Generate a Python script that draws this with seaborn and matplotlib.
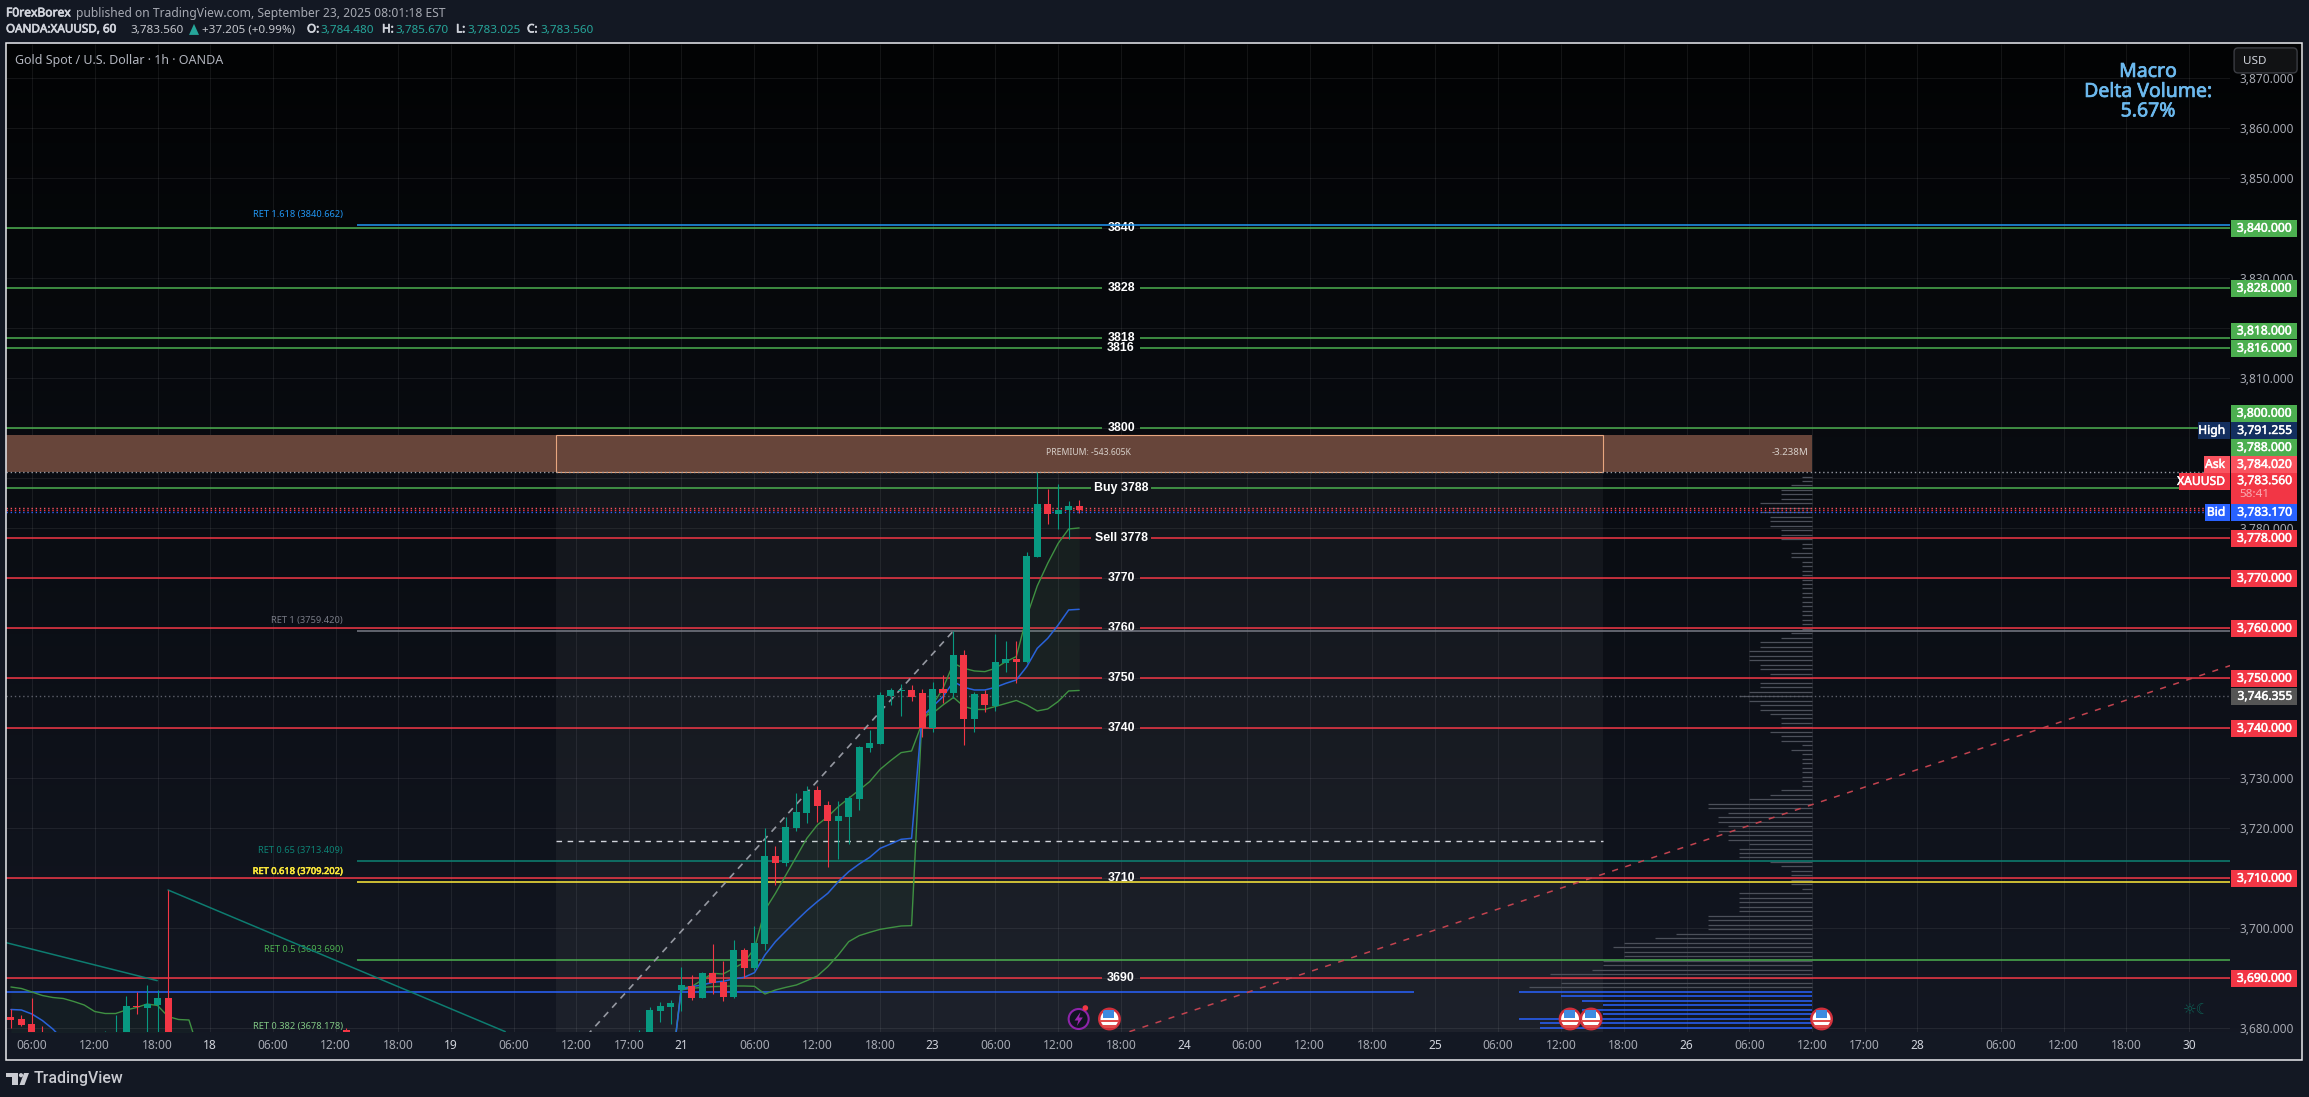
import numpy as np
import pandas as pd
import matplotlib
matplotlib.use("Agg")
import matplotlib.pyplot as plt
import matplotlib.patheffects as pe
import seaborn as sns
from matplotlib.colors import LinearSegmentedColormap
from matplotlib.patches import Circle, Polygon, Rectangle

# ==========================================
# DATA (x = hourly bar index, 0 is Sep 22 06:00)
# ==========================================
candle_t = [-71, -70, -69, -68, -62, -61, -60, -59, -58, -57, -56, -39, -11, -10, -9, -8, -7, -6, -5, -4, -3, -2, -1,
            0, 1, 2, 3, 4, 5, 6, 7, 8, 9, 10, 11, 12, 13, 14, 15, 16, 17, 18, 19, 20, 21, 22, 23, 24, 25, 26, 27, 28,
            29, 30, 31]
candle_open = [3682.2, 3681.8, 3680.8, 3677.5, 3674.0, 3672.0, 3677.0, 3684.4, 3684.0, 3684.6, 3686.0, 3679.5, 3676.0,
               3678.0, 3683.4, 3684.2, 3687.6, 3688.4, 3686.0, 3691.0, 3689.2, 3686.2, 3695.6,
               3692.0, 3696.8, 3714.4, 3713.0, 3720.0, 3723.0, 3727.6, 3724.6, 3721.4, 3722.2, 3725.8, 3736.0, 3736.8,
               3746.4, 3747.4, 3747.6, 3747.0, 3739.93, 3747.8, 3747.0, 3754.6, 3741.8, 3746.8, 3744.4, 3753.0, 3753.8,
               3753.2, 3774.27, 3784.8, 3782.87, 3783.67, 3784.48]
candle_high = [3683.7, 3682.6, 3686.0, 3680.3, 3679.4, 3682.6, 3686.3, 3687.1, 3688.6, 3687.6, 3707.6, 3679.9, 3679.6,
               3684.2, 3685.2, 3685.6, 3692.2, 3690.6, 3691.2, 3696.8, 3693.4, 3697.6, 3696.0,
               3700.4, 3720.0, 3716.4, 3722.2, 3727.0, 3728.4, 3728.4, 3725.4, 3725.4, 3726.4, 3736.4, 3739.6, 3747.2,
               3748.0, 3748.8, 3748.6, 3747.8, 3749.2, 3750.6, 3759.42, 3755.6, 3747.2, 3747.6, 3758.8, 3757.4, 3757.4,
               3775.2, 3791.25, 3787.8, 3788.8, 3785.4, 3785.67]
candle_low = [3679.9, 3680.4, 3677.0, 3675.0, 3673.0, 3671.0, 3676.0, 3682.8, 3679.0, 3678.0, 3676.0, 3676.0, 3675.0,
              3677.0, 3681.2, 3680.8, 3683.4, 3685.6, 3686.0, 3686.8, 3685.4, 3686.0, 3690.0,
              3691.6, 3695.6, 3708.6, 3712.4, 3719.4, 3721.0, 3721.2, 3712.2, 3713.8, 3716.8, 3723.6, 3735.2, 3736.8,
              3744.6, 3742.4, 3745.47, 3738.13, 3739.27, 3745.07, 3745.9, 3736.6, 3739.27, 3743.27, 3743.47, 3751.27,
              3749.07, 3753.0, 3774.27, 3780.87, 3779.8, 3777.7, 3783.03]
candle_close = [3681.6, 3680.6, 3677.0, 3675.0, 3677.0, 3677.0, 3684.4, 3684.2, 3684.8, 3685.9, 3677.0, 3677.0, 3678.0,
                3683.6, 3684.4, 3685.0, 3688.6, 3686.0, 3691.0, 3689.0, 3686.2, 3695.6, 3692.0,
                3697.0, 3714.4, 3713.0, 3720.2, 3723.2, 3727.4, 3724.4, 3721.4, 3722.4, 3726.0, 3736.2, 3736.93, 3746.6,
                3747.6, 3747.6, 3746.27, 3739.93, 3747.8, 3747.0, 3754.6, 3741.8, 3746.8, 3744.6, 3753.2, 3753.8, 3753.2,
                3774.4, 3784.8, 3782.87, 3783.53, 3784.33, 3783.56]

# anchored band from Sep 21
band_t = [-8, -7, -6, -5, -4, -3, -2, -1, 0, 1, 2, 3, 4, 5, 6, 7, 8, 9, 10, 11, 12, 13, 14, 15, 16, 17, 18, 19, 20,
          21, 22, 23, 24, 25, 26, 27, 28, 29, 30, 31]
band_upper = [3670.0, 3688.0, 3688.27, 3689.6, 3690.93, 3690.8, 3691.93, 3693.07, 3695.93, 3703.6, 3706.93, 3710.6,
              3714.27, 3717.93, 3720.6, 3722.27, 3724.27, 3725.93, 3727.6, 3729.27, 3731.73, 3733.47, 3735.07, 3735.4,
              3740.93, 3744.6, 3747.93, 3752.93, 3751.93, 3751.4, 3751.27, 3751.93, 3753.27, 3754.27, 3762.27, 3768.4,
              3772.93, 3776.93, 3779.8, 3780.0]
band_mid = [3670.0, 3687.6, 3688.27, 3688.6, 3689.13, 3689.33, 3689.8, 3690.13, 3691.07, 3694.6, 3697.27, 3699.4,
            3701.47, 3703.47, 3705.27, 3706.93, 3709.27, 3711.27, 3712.8, 3714.13, 3715.93, 3716.8, 3717.73, 3717.93,
            3742.27, 3744.27, 3746.27, 3749.27, 3748.13, 3747.6, 3747.6, 3748.13, 3748.93, 3749.6, 3752.27, 3755.93,
            3757.93, 3760.6, 3763.6, 3763.73]
band_lower = [3670.0, 3687.6, 3687.93, 3688.13, 3688.27, 3688.33, 3688.4, 3688.4, 3688.33, 3686.8, 3687.6, 3688.13,
              3688.6, 3689.47, 3690.4, 3692.27, 3694.6, 3697.27, 3698.47, 3699.13, 3699.73, 3700.07, 3700.4, 3700.47,
              3742.3, 3742.9, 3744.6, 3746.1, 3744.3, 3743.7, 3743.7, 3744.3, 3744.9, 3745.5, 3744.6, 3743.4, 3743.8,
              3745.3, 3747.4, 3747.5]

# older band at the left edge
old_t = [-71, -70, -69, -68, -67, -66, -65, -64, -63, -62, -61, -60, -59, -58, -57, -56, -55, -54, -53]
old_upper = [3688.2, 3687.9, 3687.2, 3686.5, 3686.1, 3685.9, 3685.3, 3684.6, 3683.3, 3682.9, 3682.9, 3683.6, 3684.1,
             3684.8, 3684.5, 3682.3, 3681.7, 3681.6, 3675.0]
old_mid_t = [-71, -70, -69, -68, -67, -66]
old_mid = [3683.7, 3683.6, 3682.8, 3681.5, 3679.8, 3677.6]

# teal trend lines
trend1_t = [-71.47, -57.03]
trend1_p = [3697.07, 3689.47]
trend2_t = [-56, -23.8]
trend2_p = [3707.6, 3679.27]

# fib leg and red dashed trend
fib_t = [-16, 19]
fib_p = [3678.5, 3759.42]
red_trend_t = [35.8, 140.9]
red_trend_p = [3679.27, 3752.47]

green_levels = [3840, 3828, 3818, 3816, 3800, 3788]
red_levels = [3778, 3770, 3760, 3750, 3740, 3710, 3690]
level_text = ["3840", "3828", "3818", "3816", "3800", "Buy 3788", "Sell 3778", "3770", "3760", "3750", "3740",
              "3710", "3690"]
level_text_price = [3840, 3828, 3818, 3816, 3800, 3788, 3778, 3770, 3760, 3750, 3740, 3710, 3690]

ret_names = ["RET 1.618 (3840.662)", "RET 1 (3759.420)", "RET 0.65 (3713.409)", "RET 0.618 (3709.202)",
             "RET 0.5 (3693.690)", "RET 0.382 (3678.178)"]
ret_values = [3840.662, 3759.42, 3713.409, 3709.202, 3693.69, 3678.178]
ret_colors = ["#2196f3", "#787b86", "#0d8274", "#ffeb3b", "#4caf50", "#81c784"]

# session volume profile: price row and its length in bars
profile_prices = [3790.27, 3789.33, 3788.53, 3787.53, 3786.73, 3785.73, 3784.93, 3783.93, 3783.13, 3782.13,
                  3781.33, 3780.33, 3779.53, 3778.53, 3777.73, 3776.73, 3775.93, 3774.93, 3774.13, 3773.13,
                  3772.33, 3771.33, 3770.53, 3769.53, 3768.73, 3767.93, 3766.93, 3766.13, 3765.13, 3764.33,
                  3763.33, 3762.53, 3761.53, 3760.73, 3759.73, 3758.93, 3757.93, 3757.13, 3756.13, 3755.33,
                  3754.33, 3753.53, 3752.53, 3751.73, 3750.73, 3749.93, 3748.93, 3748.13, 3747.13, 3746.33,
                  3745.33, 3744.53, 3743.53, 3742.73, 3741.93, 3740.93, 3740.13, 3739.13, 3738.33, 3737.33,
                  3736.53, 3735.53, 3734.73, 3733.73, 3732.93, 3731.93, 3731.13, 3730.13, 3729.33, 3728.33,
                  3727.53, 3726.53, 3725.73, 3724.73, 3723.93, 3722.93, 3722.13, 3721.13, 3720.33, 3719.33,
                  3718.53, 3717.53, 3716.73, 3715.73, 3714.93, 3714.13, 3713.13, 3712.33, 3711.33, 3710.53,
                  3709.53, 3708.73, 3707.73, 3706.93, 3705.93, 3705.13, 3704.13, 3703.33, 3702.33, 3701.53,
                  3700.53, 3699.73, 3698.73, 3697.93, 3696.93, 3696.13, 3695.13, 3694.33, 3693.33, 3692.53,
                  3691.53, 3690.73, 3689.93, 3688.93, 3688.13]
profile_bars = [1, 1, 2, 3, 3, 3, 5, 4, 5, 4,
                4, 4, 3, 3, 3, 1, 1, 2, 2, 1,
                1, 1, 1, 1, 1, 1, 1, 1, 1, 1,
                1, 1, 1, 1, 1, 2, 3, 5, 5, 6,
                6, 6, 5, 5, 4, 4, 5, 5, 6, 7,
                6, 5, 5, 4, 3, 3, 3, 4, 3, 3,
                1, 2, 1, 1, 1, 1, 1, 1, 1, 1,
                3, 4, 6, 10, 10, 8, 9, 9, 8, 9,
                8, 8, 6, 7, 7, 7, 4, 3, 2, 2,
                2, 2, 1, 7, 7, 7, 7, 7, 10, 10,
                10, 10, 13, 15, 18, 19, 18, 18, 20, 20,
                21, 25, 24, 24, 27]
value_prices = [3687.13, 3686.33, 3685.33, 3684.53, 3683.53, 3682.73, 3681.73, 3680.93, 3679.93]
value_bars = [28, 24, 22, 20, 22, 20, 28, 26, 26]

xtick_pos = [-69, -63, -57, -52, -46, -40, -34, -29, -23, -17, -12, -7, 0, 6, 12, 17, 23, 29, 35, 41, 47, 53, 59, 65,
             71, 77, 83, 89, 95, 101, 106, 111, 119, 125, 131, 137]
xtick_labels = ["06:00", "12:00", "18:00", "18", "06:00", "12:00", "18:00", "19", "06:00", "12:00", "17:00", "21",
                "06:00", "12:00", "18:00", "23", "06:00", "12:00", "18:00", "24", "06:00", "12:00", "18:00", "25",
                "06:00", "12:00", "18:00", "26", "06:00", "12:00", "17:00", "28", "06:00", "12:00", "18:00", "30"]
price_ticks = [3680, 3690, 3700, 3710, 3720, 3730, 3740, 3750, 3760, 3770, 3780, 3790, 3800, 3810, 3820, 3830, 3840,
               3850, 3860, 3870]

# right hand price tags: text, level shown as label
tag_text = ["3,840.000", "3,828.000", "3,818.000", "3,816.000", "3,800.000", "3,791.255", "3,788.000", "3,784.020",
            "3,783.170", "3,778.000", "3,770.000", "3,760.000", "3,750.000", "3,746.355", "3,740.000", "3,710.000",
            "3,690.000"]
tag_y = [228.3, 288.3, 331, 348.3, 413.3, 430.5, 447.5, 464.5, 512.3, 538.3, 578.3, 628.3, 678.3, 696.3, 728.3, 878.3,
         978.3]
tag_color = ["#4caf50", "#4caf50", "#4caf50", "#4caf50", "#4caf50", "#132f5f", "#4caf50", "#f9535f",
             "#2962ff", "#f23645", "#f23645", "#f23645", "#f23645", "#555555", "#f23645", "#f23645", "#f23645"]

GREEN = "#089981"
RED = "#f23645"
BG = "#131823"


def thick(col, w=0.35):
    # the reference text renders heavier than the installed regular weights
    return [pe.withStroke(linewidth=w, foreground=col)]


# ==========================================
# FIGURE
# ==========================================
sns.set_theme(style="dark", rc={"axes.grid": False})
plt.rcParams["font.family"] = ["Noto Sans", "DejaVu Sans"]

W, H = 2309, 1097
fig = plt.figure(figsize=(23.091, 10.971), dpi=100, facecolor=BG)

# gradient behind the whole chart frame
back = fig.add_axes([6 / W, 1 - 1032 / H, 2296 / W, 988 / H], zorder=0)
cmap = LinearSegmentedColormap.from_list("bg", ["#020304", "#0a0d13", "#131722"])
back.imshow(np.linspace(0, 1, 256)[:, None], aspect="auto", cmap=cmap)
back.axis("off")

ax = fig.add_axes([6 / W, 1 - 1032 / H, 2224 / W, 988 / H], zorder=1)
ax.patch.set_alpha(0)
XMIN, XMAX = -71.47, 140.9
YMIN, YMAX = 3679.2, 3876.8

# grid
ax.hlines(price_ticks, XMIN, XMAX, color="white", alpha=0.07, lw=0.8, zorder=1)
ax.vlines(xtick_pos, YMIN, YMAX, color="white", alpha=0.07, lw=0.8, zorder=1)

# shaded session and premium zone
ax.add_patch(Rectangle((-19, YMIN), 100, 3791.14 - YMIN, fc="white", alpha=0.045, ec="none", zorder=1.5))
ax.add_patch(Rectangle((XMIN, 3791.14), 101 - XMIN, 7.46, fc="#67453a", ec="none", zorder=2))
ax.add_patch(Rectangle((-19, 3791.14), 100, 7.46, fc="none", ec="#e8a67f", lw=0.8, zorder=2.2))
ax.text(31.9, 3795.1, "PREMIUM: -543.605K", color="#d8d0ca", fontsize=6.2, ha="center", va="center", zorder=3)
ax.text(100.6, 3795.1, "-3.238M", color="#d8d0ca", fontsize=7, ha="right", va="center", zorder=3)

# volume profile
ax.hlines(profile_prices, 101 - np.array(profile_bars), 101, color="#4c505a", lw=0.9, zorder=2.5)
ax.hlines(value_prices, 101 - np.array(value_bars), 101, color="#2962ff", lw=1.1, zorder=2.5)

# level lines with a gap where the label sits
for lev, col in zip(green_levels + red_levels, ["#4caf50"] * 6 + [RED] * 7):
    gap = 2.9 if lev in (3788, 3778) else 1.8
    ax.hlines(lev, XMIN, 35 - gap, color=col, lw=1.1, zorder=3)
    ax.hlines(lev, 35 + gap, XMAX, color=col, lw=1.1, zorder=3)
for s, p in zip(level_text, level_text_price):
    ax.text(35, p, s, color="white", fontsize=8.9, fontfamily="Liberation Sans", fontweight="bold", ha="center",
            va="center", zorder=3.1)

# blue line and fib levels
ax.hlines(3687.13, XMIN, 63, color="#2962ff", lw=1.1, zorder=3)
for name, val, col in zip(ret_names, ret_values, ret_colors):
    ax.hlines(val, -38, XMAX, color=col, lw=1.1, zorder=3.2)
    ax.text(-39.3, val + 2.1, name, color=col, fontsize=6.7, ha="right", va="center", zorder=3.2,
            path_effects=thick(col, 0.4) if col == "#ffeb3b" else None)

# dotted last price lines
ax.hlines(3791.14, XMIN, XMAX, color="#9598a1", lw=1, linestyles=(0, (1, 2)), zorder=3.3)
ax.hlines(3783.98, XMIN, XMAX, color="#f7525f", lw=1, linestyles=(0, (1, 2)), zorder=3.3)
ax.hlines(3783.56, XMIN, XMAX, color=RED, lw=1, linestyles=(0, (1, 2)), zorder=3.3)
ax.hlines(3783.17, XMIN, XMAX, color="#2962ff", lw=1, linestyles=(0, (1, 2)), zorder=3.3)
ax.hlines(3746.355, XMIN, XMAX, color="#5d606b", lw=1, linestyles=(0, (1, 2)), zorder=3.3)
ax.hlines(3717.33, -19, 81, color="#d1d4dc", lw=1, linestyles=(0, (4, 4)), zorder=3.3)

# band fills and lines
ax.fill_between(band_t, band_lower, band_upper, color="#4caf50", alpha=0.06, lw=0, zorder=3.4)
ax.fill_between(old_t, 3670, old_upper, color="#4caf50", alpha=0.05, lw=0, zorder=3.4)
band = pd.DataFrame({"t": band_t, "upper": band_upper, "mid": band_mid, "lower": band_lower})
sns.lineplot(data=band, x="t", y="upper", color="#3f9142", lw=1, ax=ax, zorder=4)
sns.lineplot(data=band, x="t", y="lower", color="#3f9142", lw=1, ax=ax, zorder=4)
sns.lineplot(data=band, x="t", y="mid", color="#2962d9", lw=1.1, ax=ax, zorder=4)
sns.lineplot(x=old_t, y=old_upper, color="#3f9142", lw=1, ax=ax, zorder=4)
sns.lineplot(x=old_mid_t, y=old_mid, color="#2962d9", lw=1.1, ax=ax, zorder=4)

# trend lines
sns.lineplot(x=trend1_t, y=trend1_p, color="#0d7c70", lw=1.1, ax=ax, zorder=4)
sns.lineplot(x=trend2_t, y=trend2_p, color="#0d7c70", lw=1.1, ax=ax, zorder=4)
ax.plot(fib_t, fib_p, color="#9598a1", lw=1.2, ls=(0, (4, 3.5)), zorder=4)
ax.plot(red_trend_t, red_trend_p, color="#c2434f", lw=1.1, ls=(0, (4, 5)), zorder=4)

# candles
candles = pd.DataFrame({"t": candle_t, "o": candle_open, "h": candle_high, "l": candle_low, "c": candle_close})
candles["up"] = candles.c >= candles.o
candles["bottom"] = candles[["o", "c"]].min(axis=1)
candles["body"] = (candles.c - candles.o).abs()
ax.vlines(candles.t[candles.up], candles.l[candles.up], candles.h[candles.up], color=GREEN, lw=0.8, zorder=5)
ax.vlines(candles.t[~candles.up], candles.l[~candles.up], candles.h[~candles.up], color=RED, lw=0.8, zorder=5)
for is_up, col in [(True, GREEN), (False, RED)]:
    sub = candles[candles.up == is_up].sort_values("t")
    sns.barplot(data=sub, x="t", y="body", bottom=sub.bottom.values, native_scale=True, width=0.67, color=col,
                saturation=1, errorbar=None, ax=ax, zorder=5.1, linewidth=0, edgecolor="none")

ax.set_xlim(XMIN, XMAX)
ax.set_ylim(YMIN, YMAX)
ax.set_xlabel(None)
ax.set_ylabel(None)
ax.set_xticks(xtick_pos)
ax.set_xticklabels(xtick_labels)
ax.yaxis.tick_right()
ax.set_yticks(price_ticks)
ax.set_yticklabels([f"{p:,.3f}" for p in price_ticks])
ax.tick_params(axis="both", length=0, colors="#a6a9b2", labelsize=8.6)
ax.tick_params(axis="x", pad=5)
ax.tick_params(axis="y", pad=6.5)
for lbl in ax.get_xticklabels():
    if ":" not in lbl.get_text():
        lbl.set_fontweight("bold")
        lbl.set_color("#d1d4dc")
sns.despine(ax=ax, left=True, bottom=True, right=True, top=True)

# ==========================================
# OVERLAY IN PIXELS (frame, tags, header, icons)
# ==========================================
ov = fig.add_axes([0, 0, 1, 1], zorder=2)
ov.set_xlim(0, W)
ov.set_ylim(H, 0)
ov.axis("off")
ov.patch.set_alpha(0)
ov.add_patch(Rectangle((6, 43), 2296, 1017, fc="none", ec="#e8e9ec", lw=1.1))


def tag(x0, x1, yc, s, col, txt="white", h=16.8):
    ov.add_patch(Rectangle((x0, yc - h / 2), x1 - x0, h, fc=col, ec="none"))
    ov.text(x1 - 5, yc, s, color=txt, fontsize=8.7, ha="right", va="center", path_effects=thick(txt))


for s, y, c in zip(tag_text, tag_y, tag_color):
    tag(2231, 2297, y, s, c)
# current price tag is taller with the countdown
ov.add_patch(Rectangle((2231, 473), 66, 31, fc=RED, ec="none"))
ov.text(2292, 480.7, "3,783.560", color="white", fontsize=8.7, ha="right", va="center", path_effects=thick("white"))
ov.text(2239, 494.7, "58:41", color="#f9aab0", fontsize=8.4, ha="left", va="center")
tag(2198, 2230, 430.5, "High", "#132f5f")
tag(2204, 2230, 464.5, "Ask", "#f9535f")
tag(2179, 2230, 481.5, "XAUUSD", RED)
tag(2205, 2230, 512.3, "Bid", "#2962ff")

# USD button
ov.add_patch(matplotlib.patches.FancyBboxPatch((2235, 49), 61, 23, boxstyle="round,pad=1,rounding_size=4",
                                               fc="#111214", ec="#3a3c42", lw=1))
ov.text(2243, 61, "USD", color="#d1d4dc", fontsize=8.4, va="center")

# macro box text
macro_col = "#6cb9ee"
for s, y in [("Macro", 72), ("Delta Volume:", 92), ("5.67%", 111.5)]:
    ov.text(2148, y, s, color=macro_col, fontsize=14, ha="center", va="center", path_effects=thick(macro_col, 0.5))

# header
ov.text(6, 13, "F0rexBorex", color="#d1d4dc", fontsize=8.7, va="center", path_effects=thick("#d1d4dc", 0.5))
ov.text(76, 13, "published on TradingView.com, September 23, 2025 08:01:18 EST", color="#a6a9b2", fontsize=8.7,
        va="center")
ov.text(6, 30, "OANDA:XAUUSD, 60", color="#d1d4dc", fontsize=8.4, va="center", path_effects=thick("#d1d4dc", 0.5))
ov.text(130, 30, "3,783.560", color="#c4c6cc", fontsize=8.4, va="center")
ov.add_patch(Polygon([[189, 35], [199, 35], [194, 24]], fc="#26a69a", ec="none"))
ov.text(202, 30, "+37.205 (+0.99%)", color="#c4c6cc", fontsize=8.4, va="center")
for x0, s0, x1, s1 in [(307, "O:", 320, "3,784.480"), (382, "H:", 395, "3,785.670"), (456, "L:", 467, "3,783.025"),
                       (527, "C:", 540, "3,783.560")]:
    ov.text(x0, 30, s0, color="#d1d4dc", fontsize=8.4, va="center", path_effects=thick("#d1d4dc", 0.5))
    ov.text(x1, 30, s1, color="#26a69a", fontsize=8.4, va="center")
ov.text(15, 60.7, "Gold Spot / U.S. Dollar · 1h · OANDA", color="#b2b5be", fontsize=9, va="center")

# logo
logo = "#c9cbd1"
ov.add_patch(Polygon([[6, 1073], [18, 1073], [18, 1085], [12, 1085], [12, 1077], [6, 1077]], fc=logo, ec="none"))
ov.add_patch(Circle((21, 1075.2), 2.1, fc=logo, ec="none"))
ov.add_patch(Polygon([[24, 1073], [29, 1073], [24.5, 1085], [19.5, 1085]], fc=logo, ec="none"))
ov.text(34, 1078.5, "TradingView", color=logo, fontsize=11.4, fontfamily="Roboto", fontweight="medium", va="center")


def flag(cx, cy=1019):
    ring = Circle((cx, cy), 10.2, fc="white", ec="#cf2f3b", lw=1.8, zorder=5)
    ov.add_patch(ring)
    for x0, y0, ww, hh, col in [(cx - 6, cy - 8.5, 11, 8, "#3d8be0"), (cx - 10, cy + 0.8, 20, 2.6, "#e04a4a"),
                                (cx - 10, cy + 5.8, 20, 2.8, "#e04a4a")]:
        r = Rectangle((x0, y0), ww, hh, fc=col, ec="none", zorder=5.1)
        ov.add_patch(r)
        r.set_clip_path(ring)


for cx in [1109.4, 1570, 1591, 1821.5]:
    flag(cx)

# lightning event
ov.add_patch(Circle((1078.6, 1019), 10, fc="#101420", ec="#8e24aa", lw=1.5, zorder=5))
ov.add_patch(Polygon([[1080.5, 1012], [1074.5, 1020.5], [1078.2, 1020.5], [1076.8, 1026], [1082.8, 1017.5],
                      [1079, 1017.5]], fc="#9c27b0", ec="none", zorder=5.1))
ov.add_patch(Circle((1085.3, 1008), 2.8, fc=RED, ec="none", zorder=5.2))

ov.text(2196.5, 1009, "☼☾", color="#0e5f54", fontsize=11, fontfamily="DejaVu Sans", ha="center", va="center")

fig.savefig("out.png", dpi=100, facecolor=BG)
